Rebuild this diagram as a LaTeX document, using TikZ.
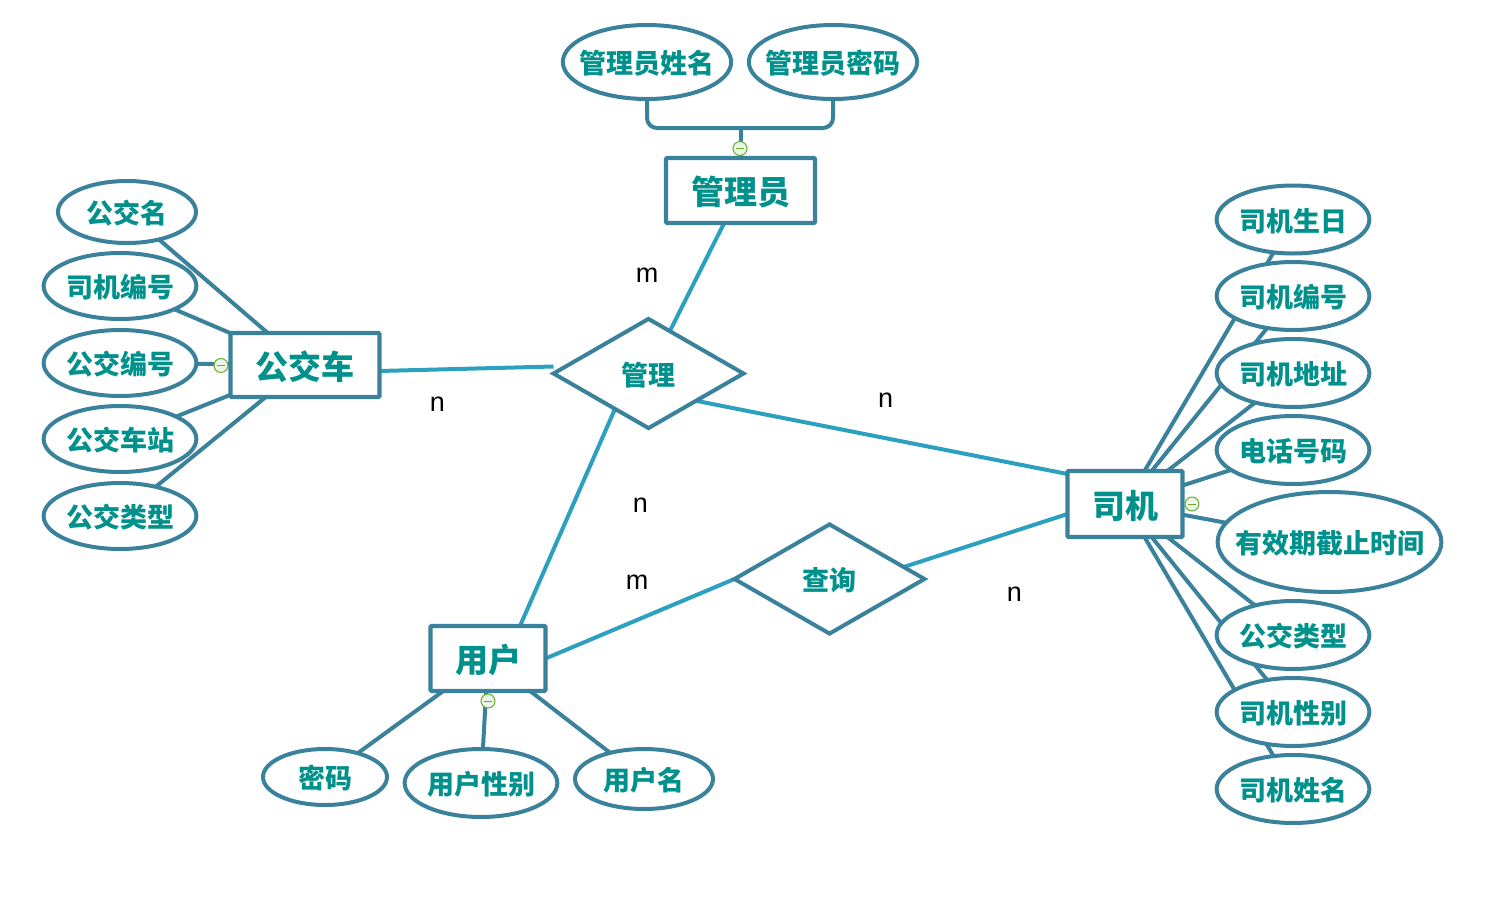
\documentclass[tikz,border=0pt]{standalone}
\usepackage{fontspec}
\setmainfont{Liberation Sans}
\newfontfamily\cjk{Noto Sans CJK SC}
\usetikzlibrary{shapes.geometric,backgrounds}

\definecolor{edgeblue}{HTML}{3A819C}
\definecolor{relblue}{HTML}{2BA0BF}
\definecolor{labelteal}{HTML}{00918C}
\definecolor{foldgreen}{HTML}{66AE2B}

\tikzset{
	entity/.style={draw=edgeblue,fill=white,line width=2.1pt,rectangle,rounded corners=0.5pt,outer sep=0pt,
		text=labelteal,text height=15pt,text depth=0.8pt,font={\cjk\bfseries\fontsize{16.5}{20}\selectfont}},
	attr/.style={draw=edgeblue,fill=white,line width=2pt,ellipse,inner sep=0pt,outer sep=0pt,
		text=labelteal,text height=12.4pt,text depth=0.6pt,font={\cjk\bfseries\fontsize{13.5}{16}\selectfont}},
	relation/.style={draw=edgeblue,fill=white,line width=2pt,diamond,aspect=1.74,inner sep=0pt,outer sep=0pt,
		minimum width=95pt,minimum height=54.6pt,
		text=labelteal,text height=12.4pt,text depth=0.6pt,font={\cjk\bfseries\fontsize{13.5}{16}\selectfont}},
	attrline/.style={draw=edgeblue,line width=2pt},
	relline/.style={draw=relblue,line width=2pt},
	card/.style={font=\fontsize{13.5}{16}\selectfont,text=black,inner sep=0pt},
	fold/.style={circle,draw=foldgreen,fill=foldgreen!12,line width=0.5pt,minimum size=7pt,inner sep=0pt,
		path picture={\draw[foldgreen,line width=0.5pt] ([xshift=1.4pt]path picture bounding box.west)--([xshift=-1.4pt]path picture bounding box.east);}},
}

\begin{document}
\begin{tikzpicture}[x=0.5pt,y=-0.5pt]
\useasboundingbox (0,0) rectangle (1506,905);

% entities
\node[entity,minimum width=74.5pt,minimum height=32.5pt] (admin) at (740.5,190.5) {管理员};
\node[entity,minimum width=74.5pt,minimum height=32pt] (bus) at (305,365) {公交车};
\node[entity,minimum width=57.5pt,minimum height=32.5pt] (user) at (488,658.5) {用户};
\node[entity,minimum width=57.5pt,minimum height=33pt] (driver) at (1125,504) {司机};

% relations
\node[relation] (manage) at (648.5,373.5) {管理};
\node[relation] (query) at (829.5,579) {查询};

% admin attributes
\node[attr,inner xsep=-4pt,minimum height=37pt] (adminname) at (647,62) {管理员姓名};
\node[attr,inner xsep=-4pt,minimum height=37pt] (adminpass) at (833,62) {管理员密码};

% bus attributes
\node[attr,minimum width=69pt,minimum height=31pt] (busname) at (127,212) {公交名};
\node[attr,minimum width=76pt,minimum height=33pt] (busdriver) at (120,286) {司机编号};
\node[attr,minimum width=76pt,minimum height=33pt] (busnum) at (120,363) {公交编号};
\node[attr,minimum width=76pt,minimum height=33pt] (busstop) at (120,439) {公交车站};
\node[attr,minimum width=76pt,minimum height=33pt] (bustype) at (120,516) {公交类型};

% user attributes
\node[attr,minimum width=62pt,minimum height=28pt] (userpass) at (325,777) {密码};
\node[attr,minimum width=76pt,minimum height=34pt] (usersex) at (481,783) {用户性别};
\node[attr,minimum width=69pt,minimum height=30pt] (username) at (644,779) {用户名};

% driver attributes
\node[attr,minimum width=76pt,minimum height=34pt] (dbirth) at (1293,219.5) {司机生日};
\node[attr,minimum width=76pt,minimum height=34pt] (dnum) at (1293,296) {司机编号};
\node[attr,minimum width=76pt,minimum height=34pt] (daddr) at (1293,373) {司机地址};
\node[attr,minimum width=76pt,minimum height=34pt] (dphone) at (1293,450) {电话号码};
\node[attr,inner xsep=-7.7pt,minimum height=50pt] (dlimit) at (1329.5,542) {有效期截止时间};
\node[attr,minimum width=76pt,minimum height=34pt] (dtype) at (1293,635) {公交类型};
\node[attr,minimum width=76pt,minimum height=34pt] (dsex) at (1293,712) {司机性别};
\node[attr,minimum width=76pt,minimum height=34pt] (dname) at (1293,789) {司机姓名};

\coordinate (elbow) at (740.5,128);

\begin{scope}[on background layer]
\foreach \a in {busname,busdriver,busnum,busstop,bustype}
	\draw[attrline] (bus.center)--(\a.center);
\foreach \a in {userpass,usersex,username}
	\draw[attrline] (user.center)--(\a.center);
\foreach \a in {dbirth,dnum,daddr,dphone,dlimit,dtype,dsex,dname}
	\draw[attrline] (driver.center)--(\a.center);
\draw[attrline,rounded corners=5pt] (adminname.center)--(adminname.center |- elbow)--(adminpass.center |- elbow)--(adminpass.center);
\draw[attrline] (elbow)--(admin.center);

\draw[relline] (admin.center)--(manage.center);
\draw[relline] ([yshift=-3pt]bus.east)--([yshift=3.5pt]manage.west);
\draw[relline] (manage.south east)--([yshift=15pt]driver.west);
\draw[relline] ([xshift=-9pt]manage.center)--([xshift=16pt]user.north);
\draw[relline] (user.east)--(query.west);
\draw[relline] ([yshift=-6pt]query.center)--([yshift=-5pt]driver.west);
\end{scope}

% fold marks
\node[fold] (foldadmin) at (740,148.5) {};
\node[fold] (foldbus) at (221,365.5) {};
\node[fold] (folddriver) at (1192,504) {};
\node[fold] (folduser) at (488,701) {};

% cardinalities
\node[card] (cardadmin) at (647,275) {m};
\node[card] (cardbus) at (437.5,404) {n};
\node[card] (carddriver) at (885.5,400) {n};
\node[card] (carduser) at (640.5,505) {n};
\node[card] (cardquery) at (637,582) {m};
\node[card] (cardquerydriver) at (1014.5,594) {n};

\end{tikzpicture}
\end{document}
